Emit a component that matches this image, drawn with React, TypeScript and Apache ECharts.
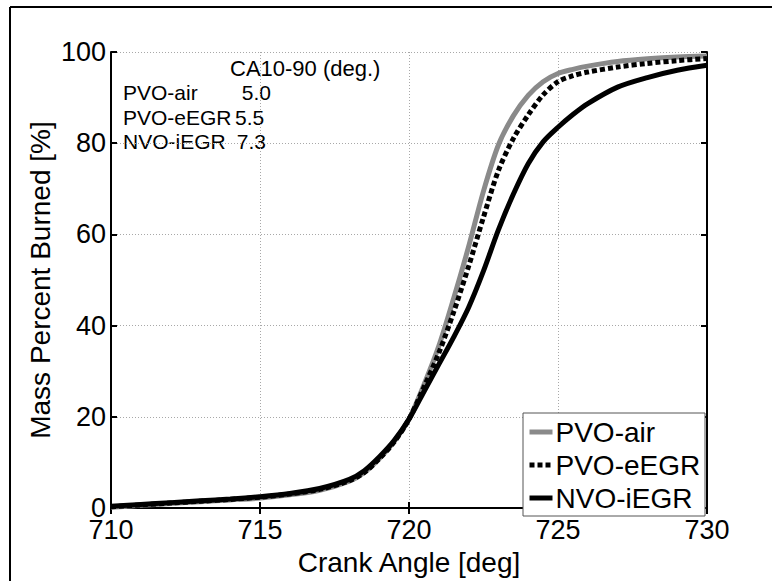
import React, { useEffect, useRef } from "react";
import * as echarts from "echarts";

const crankAngle = [710, 711, 712, 713, 714, 715, 716, 717, 718, 718.5, 719, 719.5, 720, 720.5, 721, 721.5, 722, 722.5, 723, 723.5, 724, 724.5, 725, 725.5, 726, 727, 728, 729, 730];
const pvoAir = [0.2, 0.6, 1.0, 1.4, 1.8, 2.2, 2.9, 3.9, 5.9, 7.8, 10.8, 14.6, 19.5, 27.0, 35.5, 46.0, 57.3, 69.5, 79.6, 86.0, 90.5, 93.5, 95.3, 96.2, 96.9, 97.9, 98.5, 98.9, 99.1];
const pvoEegr = [0.3, 0.7, 1.1, 1.5, 1.9, 2.4, 3.1, 4.1, 6.0, 7.8, 10.8, 14.5, 19.5, 26.5, 34.0, 43.0, 53.0, 63.8, 74.0, 81.0, 86.2, 90.6, 93.5, 94.8, 95.6, 96.7, 97.5, 98.1, 98.6];
const nvoIegr = [0.4, 0.8, 1.2, 1.6, 2.0, 2.5, 3.2, 4.3, 6.3, 8.2, 11.2, 14.8, 19.5, 25.5, 31.5, 37.5, 44.0, 52.0, 61.0, 68.8, 75.5, 80.3, 83.5, 86.3, 88.7, 92.3, 94.4, 96.0, 97.1];

const seriesNames = ["PVO-air", "PVO-eEGR", "NVO-iEGR"];
const xTicks = [710, 715, 720, 725, 730];
const yTicks = [0, 20, 40, 60, 80, 100];

const annotationTitle = "CA10-90 (deg.)";
const annotationNames = ["PVO-air", "PVO-eEGR", "NVO-iEGR"];
const annotationValues = ["5.0", "5.5", "7.3"];

const FONT = "'Liberation Sans', Arial, Helvetica, sans-serif";

export default function App() {
  const ref = useRef<HTMLDivElement>(null);
  useEffect(() => {
    if (!ref.current) return;
    const chart = echarts.init(ref.current, undefined, { renderer: "svg" });
    const toPairs = (vals: number[]) => crankAngle.map((x, i) => [x, vals[i]]);
    const axisLine = { show: true, lineStyle: { color: "#000", width: 2 } };
    const axisTick = { show: true, inside: true, length: 6, lineStyle: { color: "#000", width: 2 } };
    const splitLine = { show: true, lineStyle: { color: "#a8a8a8", width: 1, type: [1, 2] } };
    const rowY = [92.5, 117, 141];
    const valX = [241.7, 235, 236.7];
    const graphic: any[] = [
      { type: "line", shape: { x1: 10, y1: 7, x2: 772, y2: 7 }, style: { stroke: "#000", lineWidth: 2 } },
      { type: "line", shape: { x1: 10, y1: 7, x2: 10, y2: 581 }, style: { stroke: "#000", lineWidth: 2 } },
      { type: "rect", z: 3, shape: { x: 523, y: 413, width: 182, height: 103 }, style: { fill: "#fff", stroke: "#555", lineWidth: 1 } },
      { type: "text", x: 230, y: 68, style: { text: annotationTitle, fontSize: 22, fontFamily: FONT, fill: "#000", verticalAlign: "middle" } },
    ];
    annotationNames.forEach((n, i) => {
      graphic.push({ type: "text", x: 123, y: rowY[i], style: { text: n, fontSize: 21, fontFamily: FONT, fill: "#000", verticalAlign: "middle" } });
      graphic.push({ type: "text", x: valX[i], y: rowY[i], style: { text: annotationValues[i], fontSize: 21, fontFamily: FONT, fill: "#000", verticalAlign: "middle" } });
    });
    chart.setOption({
      animation: false,
      backgroundColor: "#fff",
      grid: { left: 111, right: 65, top: 52, bottom: 63 },
      xAxis: [
        {
          type: "value", min: xTicks[0], max: xTicks[xTicks.length - 1], interval: 5,
          name: "Crank Angle [deg]", nameLocation: "middle", nameGap: 31,
          nameTextStyle: { fontSize: 28, fontFamily: FONT, color: "#000" },
          axisLine, axisTick, splitLine,
          axisLabel: { fontSize: 27, fontFamily: FONT, color: "#000", margin: 8 },
        },
        {
          type: "value", position: "top", min: xTicks[0], max: xTicks[xTicks.length - 1], interval: 5,
          axisLine, axisTick, splitLine: { show: false }, axisLabel: { show: false },
        },
      ],
      yAxis: [
        {
          type: "value", min: yTicks[0], max: yTicks[yTicks.length - 1], interval: 20,
          name: "Mass Percent Burned [%]", nameLocation: "middle", nameGap: 57, nameMoveOverlap: false,
          nameTextStyle: { fontSize: 28, fontFamily: FONT, color: "#000" },
          axisLine, axisTick, splitLine,
          axisLabel: { fontSize: 27, fontFamily: FONT, color: "#000", margin: 5 },
        },
        {
          type: "value", position: "right", min: yTicks[0], max: yTicks[yTicks.length - 1], interval: 20,
          axisLine, axisTick, splitLine: { show: false }, axisLabel: { show: false },
        },
      ],
      legend: {
        orient: "vertical", left: 527, top: 418, padding: 0, z: 5,
        itemWidth: 23, itemHeight: 14, itemGap: 5,
        itemStyle: { opacity: 0 },
        lineStyle: { width: 5 },
        textStyle: { fontSize: 28, fontFamily: FONT, color: "#000", padding: [0, 0, 0, -2] },
        data: seriesNames,
      },
      graphic,
      series: [
        {
          name: seriesNames[0], type: "line", data: toPairs(pvoAir), symbol: "none", smooth: 0.3,
          lineStyle: { color: "#8a8a8a", width: 5 }, itemStyle: { color: "#8a8a8a" }, z: 2,
        },
        {
          name: seriesNames[1], type: "line", data: toPairs(pvoEegr), symbol: "none", smooth: 0.3,
          lineStyle: { color: "#000", width: 5, type: [5, 3], cap: "butt" }, itemStyle: { color: "#000" }, z: 2,
        },
        {
          name: seriesNames[2], type: "line", data: toPairs(nvoIegr), symbol: "none", smooth: 0.3,
          lineStyle: { color: "#000", width: 5 }, itemStyle: { color: "#000" }, z: 2,
        },
      ],
    });
    return () => chart.dispose();
  }, []);
  return <div ref={ref} style={{ position: "absolute", left: 0, top: 0, width: 772, height: 581 }} />;
}
